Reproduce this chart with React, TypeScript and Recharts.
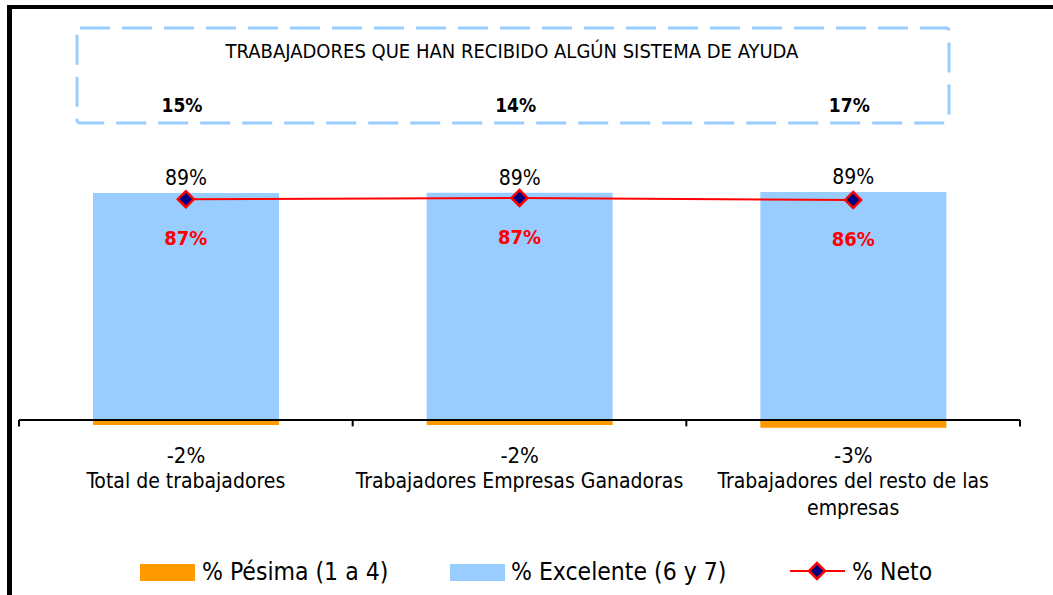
import {
  Bar,
  ComposedChart,
  LabelList,
  Line,
  ReferenceLine,
  XAxis,
  YAxis,
} from "recharts";

const categories = [
  "Total de trabajadores",
  "Trabajadores Empresas Ganadoras",
  "Trabajadores del resto de las empresas",
];
const pesima = [-2, -2, -3];
const excelente = [89, 89.1, 89.4];
const neto = [86.6, 87.1, 86.3];
const ayuda = [15, 14, 17];
const boxTitle = "TRABAJADORES QUE HAN RECIBIDO ALGÚN SISTEMA DE AYUDA";
const categoryTicks = [0.5, 1.5, 2.5];
const boundaries = [0, 1, 2, 3];

const ORANGE = "#FF9900";
const BLUE = "#99CCFF";
const RED = "#FF0000";
const NAVY = "#000080";
const FONT = "'DejaVu Sans Condensed', 'DejaVu Sans', sans-serif";

const data = categories.map((name, i) => ({
  x: categoryTicks[i],
  name,
  pesima: pesima[i],
  excelente: excelente[i],
  neto: neto[i],
  ayuda: ayuda[i],
}));

const pct = (v: number) => `${Math.round(v)}%`;

// split long category names the way Excel wrapped them
function wrap(text: string, max = 32): string[] {
  const lines: string[] = [];
  let cur = "";
  for (const w of text.split(" ")) {
    if (cur && (cur + " " + w).length > max) {
      lines.push(cur);
      cur = w;
    } else {
      cur = cur ? cur + " " + w : w;
    }
  }
  if (cur) lines.push(cur);
  return lines;
}

function CatTick({ x, y, payload }: any) {
  const idx = categoryTicks.indexOf(payload.value);
  const lines = wrap(categories[idx] ?? "");
  return (
    <text x={x} y={y} textAnchor="middle" fontFamily={FONT} fontSize={21} fill="#000">
      {lines.map((l, i) => (
        <tspan key={i} x={x} dy={i === 0 ? 17 : 27}>
          {l}
        </tspan>
      ))}
    </text>
  );
}

function Diamond({ cx, cy, r = 8 }: { cx: number; cy: number; r?: number }) {
  return (
    <polygon
      points={`${cx},${cy - r} ${cx + r},${cy} ${cx},${cy + r} ${cx - r},${cy}`}
      fill={NAVY}
      stroke={RED}
      strokeWidth={2.5}
    />
  );
}

export default function App() {
  return (
    <div
      style={{
        position: "absolute",
        left: 0,
        top: 0,
        width: 1053,
        height: 595,
        background: "#fff",
        overflow: "hidden",
      }}
    >
      <ComposedChart
        width={1053}
        height={595}
        data={data}
        stackOffset="sign"
        margin={{ top: 165, right: 33, bottom: 94, left: 19 }}
      >
        <XAxis
          type="number"
          dataKey="x"
          domain={[0, 3]}
          ticks={categoryTicks}
          interval={0}
          axisLine={false}
          tickLine={false}
          tickSize={0}
          tickMargin={0}
          height={30}
          tick={<CatTick />}
        />
        <YAxis type="number" domain={[-20, 100]} hide />
        <Bar dataKey="excelente" stackId="a" fill={BLUE} barSize={186} isAnimationActive={false}>
          <LabelList
            dataKey="excelente"
            content={({ x, y, width, value }: any) => (
              <text
                x={x + width / 2}
                y={y - 8}
                textAnchor="middle"
                fontFamily={FONT}
                fontSize={21}
                fill="#000"
              >
                {pct(value)}
              </text>
            )}
          />
          <LabelList
            dataKey="ayuda"
            content={({ x, width, value }: any) => (
              <text
                x={x + width / 2 - 4}
                y={112}
                textAnchor="middle"
                fontFamily={FONT}
                fontWeight="bold"
                fontSize={19}
                fill="#000"
              >
                {pct(value)}
              </text>
            )}
          />
        </Bar>
        <Bar dataKey="pesima" stackId="a" fill={ORANGE} barSize={186} isAnimationActive={false}>
          <LabelList
            dataKey="pesima"
            content={({ x, y, width, height, value }: any) => (
              <text
                x={x + width / 2}
                y={Math.min(y, y + height) + 43}
                textAnchor="middle"
                fontFamily={FONT}
                fontSize={22}
                fill="#000"
              >
                {pct(value)}
              </text>
            )}
          />
        </Bar>
        <ReferenceLine y={0} stroke="#000" strokeWidth={2} />
        {boundaries.map((b) => (
          <ReferenceLine
            key={b}
            segment={[
              { x: b, y: 0 },
              { x: b, y: -2.5 },
            ]}
            stroke="#000"
            strokeWidth={2}
          />
        ))}
        <Line
          dataKey="neto"
          stroke={RED}
          strokeWidth={2}
          isAnimationActive={false}
          dot={(p: any) => <Diamond key={p.index} cx={p.cx} cy={p.cy} />}
          activeDot={false}
        >
          <LabelList
            dataKey="neto"
            content={({ x, y, value }: any) => (
              <text
                x={x}
                y={y + 46}
                textAnchor="middle"
                fontFamily={FONT}
                fontWeight="bold"
                fontSize={20}
                fill={RED}
              >
                {pct(value)}
              </text>
            )}
          />
        </Line>
      </ComposedChart>

      <svg
        width={1053}
        height={595}
        style={{ position: "absolute", left: 0, top: 0, pointerEvents: "none" }}
      >
        {/* outer frame, only top and left edges visible in the crop */}
        <rect x={7} y={5} width={1053} height={4} fill="#000" />
        <rect x={7} y={5} width={5} height={595} fill="#000" />

        <rect
          x={77}
          y={28}
          width={872}
          height={95}
          rx={3}
          fill="none"
          stroke={BLUE}
          strokeWidth={3}
          strokeDasharray="30 12"
        />
        <text x={512} y={58} textAnchor="middle" fontFamily={FONT} fontSize={20} fill="#000">
          {boxTitle}
        </text>

        {/* legend */}
        <rect x={140} y={564} width={55} height={17} fill={ORANGE} />
        <text x={202} y={580} fontFamily={FONT} fontSize={24.5} fill="#000">
          % Pésima (1 a 4)
        </text>
        <rect x={450} y={564} width={55} height={17} fill={BLUE} />
        <text x={511} y={580} fontFamily={FONT} fontSize={24.5} fill="#000">
          % Excelente (6 y 7)
        </text>
        <line x1={790} y1={571} x2={845} y2={571} stroke={RED} strokeWidth={2} />
        <Diamond cx={817} cy={571} />
        <text x={852} y={580} fontFamily={FONT} fontSize={24.5} fill="#000">
          % Neto
        </text>
      </svg>
    </div>
  );
}
